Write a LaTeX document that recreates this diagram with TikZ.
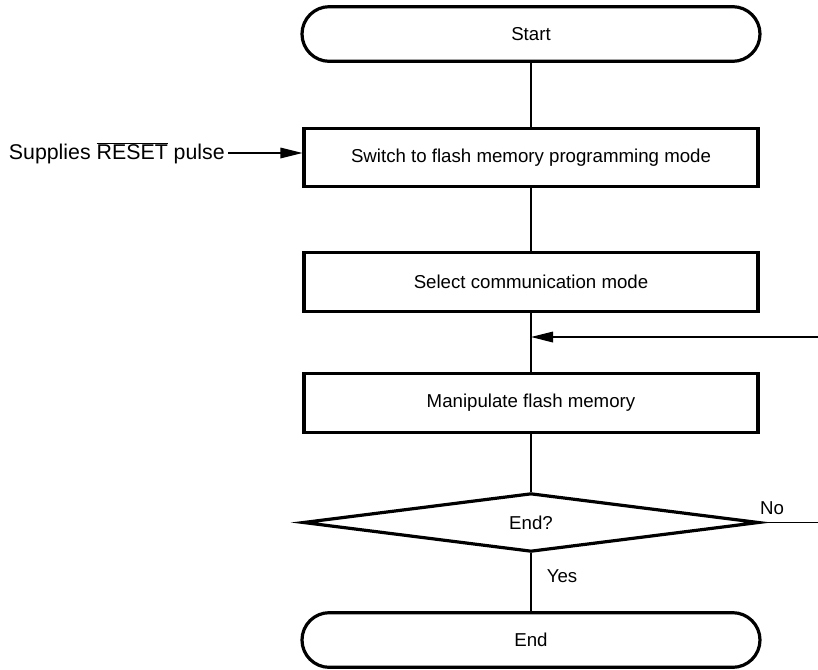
\documentclass[tikz,border=0pt]{standalone}
\usepackage{fontspec}
\setmainfont{Liberation Sans}
\usetikzlibrary{arrows.meta, shapes, positioning}

\begin{document}
\begin{tikzpicture}[x=0.75pt, y=-0.75pt,
    every node/.style={font=\fontsize{14}{17}\selectfont},
    terminal/.style={draw, line width=2.4pt, rounded corners=20.5pt,
                     minimum width=343.5pt, minimum height=41pt},
    procbox/.style={draw, line width=2.4pt, minimum width=340.5pt, minimum height=44pt},
    decision/.style={draw, diamond, line width=2.4pt, inner sep=0pt,
                     minimum width=342pt, minimum height=44pt},
    flow/.style={line width=0.9pt},
    flowarrow/.style={line width=0.9pt, -{Triangle[length=16.5pt, width=8pt]}}]
  \useasboundingbox (0,0) rectangle (818,669);

  % main column
  \node[terminal] (start) at (531,34) {Start};
  \node[procbox] (switch) at (531,157.5) {Switch to flash memory programming mode};
  \node[procbox] (select) at (531,282) {Select communication mode};
  \node[procbox] (manip) at (531,403) {Manipulate flash memory};
  \node[decision] (decide) at (531,522.5) {End?};
  \node[terminal] (finish) at (531,640) {End};

  % reset input
  \node[anchor=east, inner sep=0pt, font=\fontsize{16}{19}\selectfont] (reset) at (225,153)
    {Supplies $\overline{\mbox{RESET}}$ pulse};
  \draw[flowarrow] ([xshift=2.5pt]reset.east) -- (reset.east -| switch.west);

  % straight flow
  \draw[flow] (start) -- (switch);
  \draw[flow] (switch) -- (select);
  \draw[flow] (select) -- (manip);
  \draw[flow] (manip) -- (decide);
  \draw[flow] (decide) -- (finish);

  % loop back on No
  \coordinate (loopin) at (531,337);
  \coordinate (noend) at (822,522.5);
  \coordinate (loopcorner) at (822,337);
  \draw[flowarrow] (decide.east) -- (noend) -- (loopcorner) -- (loopin);

  \node (nolabel) at (772,508) {No};
  \node (yeslabel) at (562,576) {Yes};
\end{tikzpicture}
\end{document}
